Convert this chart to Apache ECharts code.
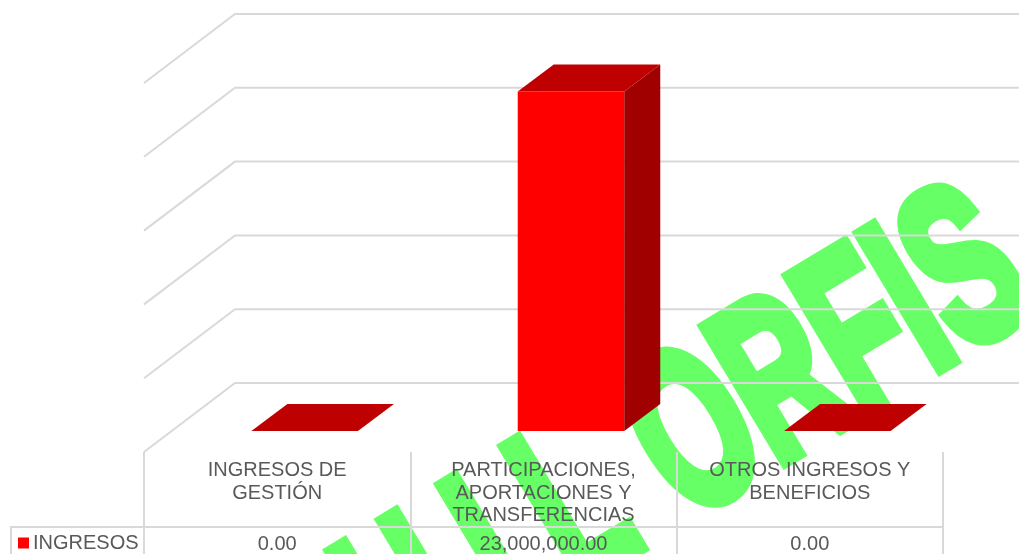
<!DOCTYPE html>
<html><head><meta charset="utf-8">
<style>html,body{margin:0;padding:0;background:#fff}#c{width:1019px;height:554px}</style>
<script src="https://cdn.jsdelivr.net/npm/echarts@6/dist/echarts.min.js"></script>
</head><body><div id="c"></div>
<script>
const categories = ['INGRESOS DE\nGESTIÓN', 'PARTICIPACIONES,\nAPORTACIONES Y\nTRANSFERENCIAS', 'OTROS INGRESOS Y\nBENEFICIOS'];
const seriesName = 'INGRESOS';
const ingresos = [0, 23000000, 0];
const tableLabels = ['0.00', '23,000,000.00', '0.00'];
const gridTicks = [0, 5000000, 10000000, 15000000, 20000000, 25000000];
const watermarkParts = [['I', -209], ['I', -149], ['I', -80], ['L', -6], ['ORFIS', 122]];

const FONT = '"Liberation Sans", Arial, sans-serif';
const TXT = '#595959', LINE = '#D9D9D9', FS = 20;
const WALL = [91, 69], OFFSET = [27.5, 21], DEPTH = [36, 27];

function gridItem(params, api) {
  const half = api.size([1, 0])[0] / 2;
  const left = api.coord([0, 0])[0] - half;
  const right = api.coord([2, 0])[0] + half;
  const y = api.coord([0, api.value(0)])[1];
  return { type: 'polyline', silent: true,
    shape: { points: [[left, y], [left + WALL[0], y - WALL[1]], [right + WALL[0], y - WALL[1]]] },
    style: { stroke: LINE, lineWidth: 2, fill: null } };
}
function barItem(params, api) {
  const idx = api.value(0), val = api.value(1);
  const band = api.size([1, 0])[0];
  const w = band / 2.5;
  const cx = api.coord([idx, 0])[0] + OFFSET[0];
  const y0 = api.coord([idx, 0])[1] - OFFSET[1];
  const y1 = api.coord([idx, val])[1] - OFFSET[1];
  const l = cx - w / 2, r = cx + w / 2, dx = DEPTH[0], dy = DEPTH[1];
  const kids = [];
  if (y0 - y1 > 0.5) {
    kids.push({ type: 'rect', shape: { x: l, y: y1, width: w, height: y0 - y1 }, style: { fill: '#FF0000' } });
    kids.push({ type: 'polygon', shape: { points: [[r, y1], [r + dx, y1 - dy], [r + dx, y0 - dy], [r, y0]] }, style: { fill: '#A00000' } });
  }
  kids.push({ type: 'polygon', shape: { points: [[l, y1], [r, y1], [r + dx, y1 - dy], [l + dx, y1 - dy]] }, style: { fill: '#BF0000' } });
  return { type: 'group', children: kids };
}

const markStyle = { fill: '#66FF66', stroke: '#66FF66', lineWidth: 14, lineJoin: 'round',
  font: 'bold 226px ' + FONT, textVerticalAlign: 'top', textAlign: 'left' };
const wmChildren = watermarkParts.map(s => ({ type: 'text', x: s[1], y: -38, scaleX: 0.6, z: -10, silent: true, style: Object.assign({ text: s[0] }, markStyle) }));

const chart = echarts.init(document.getElementById('c'), null, { renderer: 'canvas' });
chart.setOption({
  animation: false,
  backgroundColor: '#fff',
  textStyle: { fontFamily: FONT },
  grid: { left: 144, right: 76, top: 83, bottom: 102, containLabel: false },
  legend: { data: [seriesName], left: 18, top: 533, itemWidth: 11, itemHeight: 11, selectedMode: false,
    icon: 'rect', padding: 0, textStyle: { color: TXT, fontSize: FS, fontFamily: FONT, padding: [1, 0, 0, -1] } },
  xAxis: [
    { type: 'category', data: categories, position: 'bottom',
      axisLine: { show: false }, axisTick: { show: true, length: 102, lineStyle: { color: LINE, width: 2 } },
      axisLabel: { color: TXT, fontSize: FS, lineHeight: 22.7, margin: 7, interval: 0, fontFamily: FONT } },
    { type: 'category', data: tableLabels, position: 'bottom', offset: 75,
      axisLine: { show: true, lineStyle: { color: LINE, width: 2 } }, axisTick: { show: false },
      axisLabel: { color: TXT, fontSize: FS, margin: 7, interval: 0, fontFamily: FONT } }
  ],
  yAxis: { type: 'value', min: 0, max: 25000000, interval: 5000000, show: false, splitLine: { show: false } },
  graphic: [
    { type: 'group', x: 510, y: 466, rotation: 31 * Math.PI / 180, children: wmChildren },
    { type: 'line', silent: true, shape: { x1: 11, y1: 527, x2: 144, y2: 527 }, style: { stroke: LINE, lineWidth: 2 } },
    { type: 'line', silent: true, shape: { x1: 11, y1: 526, x2: 11, y2: 554 }, style: { stroke: LINE, lineWidth: 2 } }
  ],
  series: [
    { type: 'custom', name: 'grid', renderItem: gridItem, data: gridTicks.map(v => [v]), encode: { y: 0 }, z: 1, silent: true },
    { type: 'custom', name: seriesName, renderItem: barItem, data: ingresos.map((v, i) => [i, v]), encode: { x: 0, y: 1 }, z: 3,
      itemStyle: { color: '#FF0000' }, silent: true }
  ]
});
</script></body></html>
